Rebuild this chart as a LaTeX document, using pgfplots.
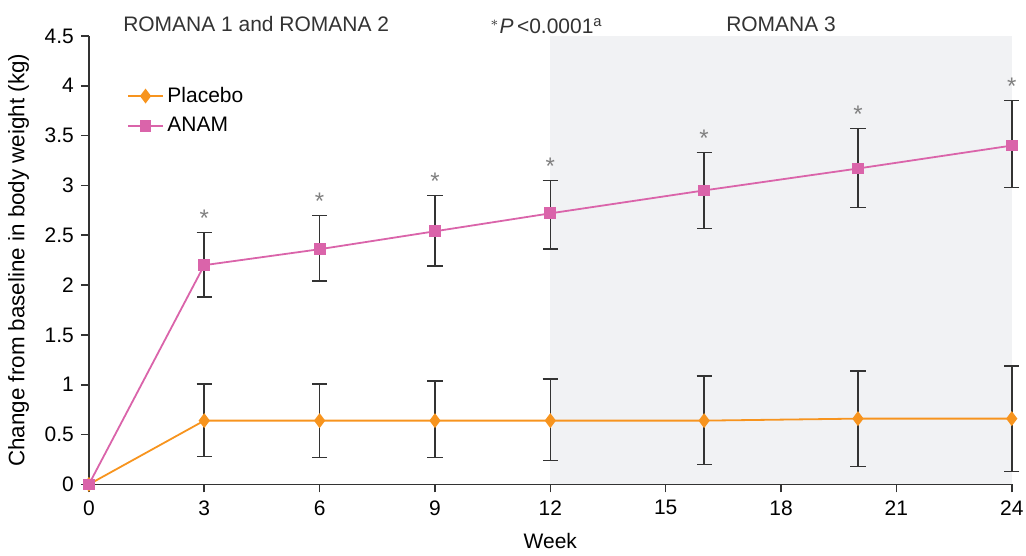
\documentclass[border=0pt]{standalone}
\usepackage{fontspec}
\setmainfont{Liberation Sans}
\usepackage{pgfplots}
\pgfplotsset{compat=1.18}
\definecolor{plac}{RGB}{247,148,30}
\definecolor{anam}{RGB}{218,100,170}
\definecolor{bgpanel}{RGB}{241,242,244}
\definecolor{ebar}{RGB}{51,51,51}
\definecolor{star}{RGB}{128,128,128}
\begin{document}
\begin{tikzpicture}
\begin{axis}[
  scale only axis,
  width=462pt, height=224.5pt,
  xmin=0, xmax=24, ymin=0, ymax=4.5,
  xtick={0,3,...,24},
  ytick={0,0.5,...,4.5},
  axis x line*=bottom, axis y line*=left,
  axis line style={-, line width=0.8pt, ebar},
  tick style={line width=0.8pt, ebar},
  tick align=outside, major tick length=4pt,
  clip=false,
  axis on top,
  font=\fontsize{10.5}{12}\selectfont,
  ticklabel style={font=\fontsize{10.5}{12}\selectfont},
  xticklabel style={inner xsep=0.3pt, yshift=-0.5pt},
  /pgf/number format/assume math mode=true,
  xlabel={Week},
  ylabel={Change from baseline in body weight (kg)},
  xlabel style={yshift=-2pt},
  ylabel style={yshift=1pt, font=\fontsize{11.2}{12}\selectfont},
  legend style={draw=none, fill=none, at={(0.035,0.905)}, anchor=north west,
    row sep=2pt, font=\fontsize{10.5}{12}\selectfont},
  legend cell align=left,
  error bars/error bar style={ebar, line width=0.75pt},
  error bars/error mark options={ebar, line width=0.75pt, rotate=90, mark size=3.8pt},
]
\fill[bgpanel] (axis cs:12,0) rectangle (axis cs:24,4.5);

\addplot[plac, line width=0.9pt, mark=diamond*, mark size=3pt,
  error bars/.cd, y dir=both, y explicit]
  coordinates {
  (0,0)
  (3,0.64)  += (0,0.37) -= (0,0.36)
  (6,0.64)  += (0,0.37) -= (0,0.37)
  (9,0.64)  += (0,0.40) -= (0,0.37)
  (12,0.64) += (0,0.42) -= (0,0.40)
  (16,0.64) += (0,0.45) -= (0,0.44)
  (20,0.66) += (0,0.48) -= (0,0.48)
  (24,0.66) += (0,0.53) -= (0,0.53)
  };
\addlegendentry{Placebo}

\addplot[anam, line width=0.9pt, mark=square*, mark size=2.5pt,
  error bars/.cd, y dir=both, y explicit]
  coordinates {
  (0,0)
  (3,2.20)  += (0,0.33) -= (0,0.32)
  (6,2.36)  += (0,0.34) -= (0,0.32)
  (9,2.54)  += (0,0.36) -= (0,0.35)
  (12,2.72) += (0,0.33) -= (0,0.36)
  (16,2.95) += (0,0.38) -= (0,0.38)
  (20,3.17) += (0,0.40) -= (0,0.39)
  (24,3.40) += (0,0.45) -= (0,0.42)
  };
\addlegendentry{ANAM}

% significance asterisks just above the ANAM upper error bars
\addplot[draw=none, mark=none, forget plot,
  nodes near coords={*},
  every node near coord/.append style={star, anchor=south, yshift=-0.5pt,
    font=\fontsize{12}{12}\selectfont}]
  coordinates {(3,2.53) (6,2.70) (9,2.90) (12,3.05) (16,3.33) (20,3.57) (24,3.85)};

\node[anchor=base, text=ebar] at (axis cs:4.35,4.54) {ROMANA 1 and ROMANA 2};
\node[anchor=base, text=ebar] at (axis cs:18.0,4.54) {ROMANA 3};
\node[anchor=base, text=ebar] at (axis cs:11.9,4.52) {$^{*}$\textit{P}\,<0.0001$^{\mathrm{a}}$};

% margins of the reference picture
\path (rel axis cs:0,0) ++(-44.5pt,-31.5pt);
\path (rel axis cs:1,1) ++(6.5pt,18pt);
\end{axis}
\end{tikzpicture}
\end{document}
